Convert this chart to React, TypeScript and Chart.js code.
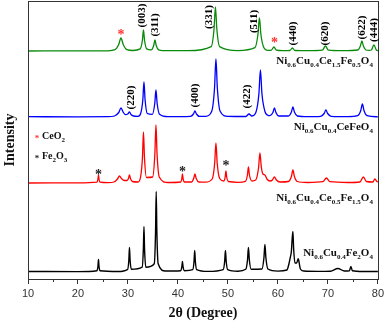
import React, { useEffect, useRef } from "react";
import { Chart, registerables } from "chart.js";

Chart.register(...registerables);

// ---- data: 2θ (deg) vs intensity (arbitrary units, stacked traces) ----
const GREEN_PTS: [number, number][] = [
  [10, 228], [20, 228.1], [26, 228.2], [27.4, 229.3], [28.15, 234.5], [28.6, 241], [29.05, 234.5], [29.8, 229.3],
  [31, 228.5], [32.44, 230.1], [32.88, 238.5], [33.1, 249], [33.32, 238.5], [33.76, 230.1],
  [34.65, 229.1], [35.15, 233.5], [35.4, 239], [35.65, 233.5], [36.15, 229.1], [37, 228.4], [42, 228.3],
  [46.66, 232.4], [47.22, 250], [47.5, 272], [47.78, 250], [48.34, 232.4], [52, 228.4],
  [55.4, 231.3], [56.0, 244.5], [56.3, 261], [56.6, 244.5], [57.2, 231.3], [58, 228.6],
  [58.7, 228.9], [59.2, 232], [59.7, 228.8], [61, 228.3], [62.4, 228.5], [62.9, 231], [63.4, 228.5],
  [66, 228.3], [68.9, 228.8], [69.5, 233], [70.1, 228.8], [73, 228.3],
  [76.0, 229], [76.5, 233], [76.8, 238], [77.1, 233], [77.6, 229], [78.2, 228.6],
  [78.7, 229], [79.2, 234], [79.7, 229], [80, 228.4],
];

const BLUE_PTS: [number, number][] = [
  [10, 162.3], [20, 162.2], [26, 162.3], [27.3, 163], [28.15, 166.5], [28.6, 171], [29.05, 166.8],
  [29.5, 164.3], [29.95, 165], [30.3, 167], [30.6, 164.5], [31.1, 163], [32, 162.7],
  [32.54, 165.5], [32.98, 179.5], [33.2, 197], [33.42, 179.5], [33.86, 165.5],
  [34.88, 164.7], [35.36, 175.5], [35.6, 189], [35.84, 175.5], [36.32, 164.7], [38, 162.3],
  [42.5, 162.6], [43.1, 165], [43.4, 168], [43.7, 165], [44.3, 162.6], [45.5, 162.7],
  [46.76, 167.8], [47.32, 191], [47.6, 220], [47.88, 191], [48.44, 167.8], [50, 162.7],
  [53.6, 162.5], [54.2, 165], [54.8, 163], [55.6, 166.7], [56.2, 185.5], [56.5, 209], [56.8, 185.5],
  [57.4, 167.5], [57.9, 164], [58.4, 163.3], [59.0, 166.5], [59.3, 171], [59.6, 166.5], [60.2, 163],
  [62.1, 163], [62.7, 167], [63.0, 172], [63.3, 167], [63.9, 163], [66, 162.3],
  [68.55, 162.7], [69.25, 165.5], [69.6, 169], [69.95, 165.5], [70.65, 162.7], [74, 162.3],
  [75.95, 163.3], [76.58, 168.5], [76.9, 175], [77.22, 168.5], [77.85, 163.3], [80, 162.2],
];

const RED_PTS: [number, number][] = [
  [10, 96], [20, 96.1], [23.8, 96.8], [24.0, 100], [24.1, 104], [24.2, 100], [24.4, 96.8], [26, 96.3],
  [27.2, 97], [27.9, 100], [28.3, 103], [28.7, 100.5], [29.3, 98.5], [29.8, 98.5], [30.1, 100.5],
  [30.3, 104], [30.5, 100.5], [30.9, 97.5], [32, 97],
  [32.5, 101.5], [32.9, 121.5], [33.1, 147], [33.3, 121.5], [33.7, 101.5],
  [34.94, 102], [35.38, 125], [35.6, 154], [35.82, 125], [36.26, 102], [38, 96.5],
  [40.55, 97], [40.78, 100.5], [40.9, 105], [41.02, 100.5], [41.3, 97],
  [42.7, 97], [43.15, 100.5], [43.4, 105], [43.65, 100.5], [44.2, 97], [45.5, 96.8],
  [46.85, 100], [47.35, 116], [47.6, 136], [47.85, 116], [48.35, 100.5],
  [49.2, 98], [49.45, 102], [49.6, 108], [49.75, 102], [50.1, 97.5], [52, 96.7],
  [53.5, 97.6], [53.9, 104], [54.1, 112], [54.3, 104], [54.8, 98],
  [55.55, 99], [56.12, 111], [56.4, 126], [56.68, 112], [57.0, 105], [57.4, 104], [57.8, 100], [58.4, 98],
  [58.9, 99], [59.3, 102], [59.7, 99], [60.4, 97], [62.1, 97.5], [62.7, 102.5], [63.0, 109], [63.3, 102.5],
  [63.9, 97.5], [66, 96.5], [69.0, 97.3], [69.7, 101], [70.4, 97.3], [74, 96.5],
  [76.4, 97], [77.1, 102], [77.7, 97.5], [79.0, 97], [79.4, 100], [79.8, 97.5], [80, 97],
];

const BLACK_PTS: [number, number][] = [
  [10, 7.5], [20, 7.4], [23.8, 8.3], [24.0, 13], [24.1, 19.5], [24.2, 13], [24.4, 8.3], [28, 7.5],
  [29.94, 9.7], [30.18, 19.3], [30.3, 31.5], [30.42, 19.3], [30.66, 9.7],
  [32.84, 11.8], [33.08, 30], [33.2, 52.5], [33.32, 30], [33.56, 11.8],
  [35.26, 15.3], [35.52, 47.3], [35.65, 87.5], [35.78, 47.3], [36.04, 15.3], [37.5, 8],
  [40.55, 8.3], [40.78, 12.3], [40.9, 17.5], [41.02, 12.3], [41.3, 8.3],
  [42.96, 9.4], [43.22, 17.8], [43.35, 28.5], [43.48, 17.8], [43.74, 9.4], [46, 7.6],
  [49.05, 9.4], [49.35, 17.8], [49.5, 28.5], [49.65, 17.8], [49.95, 9.4], [52, 7.8],
  [53.56, 9.7], [53.92, 19.3], [54.1, 31.5], [54.28, 19.3], [54.64, 9.7],
  [56.8, 10], [57.2, 21], [57.4, 34.5], [57.6, 21], [58.0, 10], [60, 7.9],
  [61.8, 9], [62.2, 15], [62.45, 21], [62.7, 28], [62.85, 40], [63.0, 47.5], [63.15, 30], [63.4, 16],
  [63.75, 16], [64.05, 20.3], [64.15, 19], [64.5, 10], [65.2, 8], [68, 7.6],
  [70.5, 7.8], [72.0, 10.5], [73.3, 8], [74.3, 8.3], [74.6, 12.5], [74.9, 8.3], [77, 7.5], [80, 7.5],
];

const SERIES_COLORS = ["#0a8a0a", "#0000ff", "#ff0000", "#000000"];
const SERIES = [GREEN_PTS, BLUE_PTS, RED_PTS, BLACK_PTS];

// Miller index labels: [2θ, intensity, text]
const HKL_LABELS: [number, number, string][] = [
  [32.8, 263.5, "(003)"], [35.45, 254, "(311)"], [46.2, 262, "(331)"], [55.3, 257.5, "(511)"],
  [63.1, 245.5, "(440)"], [69.4, 245.5, "(620)"], [76.8, 251.5, "(622)"], [79.2, 249, "(444)"],
  [30.7, 181.5, "(220)"], [43.4, 183.5, "(400)"], [53.8, 182.5, "(422)"],
];

// phase markers: [2θ, intensity, phase]
const STAR_MARKS: [number, number, string][] = [
  [28.6, 247, "CeO2"], [59.3, 239, "CeO2"],
  [24.1, 107.5, "Fe2O3"], [40.9, 110, "Fe2O3"], [49.6, 116, "Fe2O3"],
];

const LEGEND_ITEMS: [number, number, string, string][] = [
  [12, 142.3, "CeO_{2}", "CeO2"], [12, 122.3, "Fe_{2}O_{3}", "Fe2O3"],
];

const COMPOUNDS: [number, number, string][] = [
  [79.0, 218, "Ni_{0.6}Cu_{0.4}Ce_{1.5}Fe_{0.5}O_{4}"],
  [79.0, 152.3, "Ni_{0.6}Cu_{0.4}CeFeO_{4}"],
  [79.0, 80.7, "Ni_{0.6}Cu_{0.4}Ce_{0.5}Fe_{1.5}O_{4}"],
  [79.0, 25.7, "Ni_{0.6}Cu_{0.4}Fe_{2}O_{4}"],
];

const X_MIN = 10, X_MAX = 80, X_STEP = 10, MINOR_TICKS = [15, 25, 35, 45, 55, 65, 75];
const STAR_COLOR: Record<string, string> = { CeO2: "#ff3030", Fe2O3: "#222222" };

const SERIF = "'Liberation Serif', 'Times New Roman', serif";

function parseRich(s: string): { t: string; sub: boolean }[] {
  const out: { t: string; sub: boolean }[] = [];
  const re = /_\{([^}]*)\}/g;
  let last = 0;
  let m: RegExpExecArray | null;
  while ((m = re.exec(s))) {
    if (m.index > last) out.push({ t: s.slice(last, m.index), sub: false });
    out.push({ t: m[1], sub: true });
    last = m.index + m[0].length;
  }
  if (last < s.length) out.push({ t: s.slice(last), sub: false });
  return out;
}

function drawRich(ctx: CanvasRenderingContext2D, s: string, x: number, y: number, size: number, align: "left" | "right", color: string) {
  const parts = parseRich(s);
  const mainFont = `bold ${size}px ${SERIF}`;
  const subSize = Math.round(size * 0.68);
  const subFont = `bold ${subSize}px ${SERIF}`;
  ctx.save();
  ctx.fillStyle = color;
  ctx.textBaseline = "middle";
  ctx.textAlign = "left";
  let total = 0;
  for (const p of parts) {
    ctx.font = p.sub ? subFont : mainFont;
    total += ctx.measureText(p.t).width;
  }
  let cx = align === "right" ? x - total : x;
  for (const p of parts) {
    ctx.font = p.sub ? subFont : mainFont;
    ctx.fillText(p.t, cx, p.sub ? y + size * 0.38 : y);
    cx += ctx.measureText(p.t).width;
  }
  ctx.restore();
}

function drawStar(ctx: CanvasRenderingContext2D, x: number, y: number, size: number, color: string) {
  ctx.save();
  ctx.fillStyle = color;
  ctx.font = `bold ${size}px ${SERIF}`;
  ctx.textAlign = "center";
  ctx.textBaseline = "alphabetic";
  ctx.fillText("*", x, y + size * 0.5);
  ctx.restore();
}

const decorPlugin = {
  id: "decor",
  afterDatasetsDraw(chart: any) {
    const { ctx, chartArea, scales } = chart;
    const xs = scales.x, ys = scales.y;
    // frame
    ctx.save();
    ctx.strokeStyle = "#333";
    ctx.lineWidth = 1;
    ctx.strokeRect(Math.round(chartArea.left) + 0.5, Math.round(chartArea.top) + 0.5,
      Math.round(chartArea.right - chartArea.left), Math.round(chartArea.bottom - chartArea.top));
    // minor ticks
    ctx.beginPath();
    for (const v of MINOR_TICKS) {
      const px = Math.round(xs.getPixelForValue(v)) + 0.5;
      ctx.moveTo(px, chartArea.bottom);
      ctx.lineTo(px, chartArea.bottom + 3);
    }
    ctx.stroke();
    ctx.restore();

    // Miller labels
    ctx.save();
    ctx.fillStyle = "#000";
    ctx.font = `bold 11px ${SERIF}`;
    ctx.textAlign = "center";
    ctx.textBaseline = "middle";
    for (const [x, y, t] of HKL_LABELS) {
      ctx.save();
      ctx.translate(xs.getPixelForValue(x), ys.getPixelForValue(y));
      ctx.rotate(-Math.PI / 2);
      ctx.fillText(t, 0, 0);
      ctx.restore();
    }
    ctx.restore();

    for (const [x, y, ph] of STAR_MARKS) {
      drawStar(ctx, xs.getPixelForValue(x), ys.getPixelForValue(y), 14, STAR_COLOR[ph]);
    }

    for (const [x, y, label, ph] of LEGEND_ITEMS) {
      const px = xs.getPixelForValue(x), py = ys.getPixelForValue(y);
      drawStar(ctx, px - 1, py, 9, STAR_COLOR[ph]);
      drawRich(ctx, label, px + 4, py, 10, "left", "#111");
    }

    for (const [x, y, label] of COMPOUNDS) {
      drawRich(ctx, label, xs.getPixelForValue(x), ys.getPixelForValue(y), 11, "right", "#111");
    }
  },
};

export default function App() {
  const ref = useRef<HTMLCanvasElement | null>(null);
  useEffect(() => {
    if (!ref.current) return;
    const chart = new Chart(ref.current, {
      type: "line",
      data: {
        datasets: SERIES.map((pts, i) => ({
          data: pts.map(([x, y]) => ({ x, y })),
          borderColor: SERIES_COLORS[i],
          borderWidth: i === 3 ? 1.4 : 1.3,
          pointRadius: 0,
          fill: false,
          cubicInterpolationMode: "monotone" as const,
        })),
      },
      options: {
        animation: false,
        responsive: false,
        maintainAspectRatio: false,
        layout: { padding: { left: 0, top: 1, right: 7, bottom: 0 } },
        plugins: { legend: { display: false }, tooltip: { enabled: false } },
        scales: {
          x: {
            type: "linear",
            min: X_MIN,
            max: X_MAX,
            ticks: {
              stepSize: X_STEP,
              font: { family: "'Liberation Sans', Arial, sans-serif", size: 11 },
              color: "#333",
              padding: 3,
              maxRotation: 0,
            },
            grid: { drawOnChartArea: false, tickLength: 5, color: "#333" },
            border: { display: false },
            title: {
              display: true,
              text: "2θ (Degree)",
              font: { family: SERIF, size: 14, weight: "bold" },
              color: "#111",
              padding: { top: 0, bottom: 1 },
            },
            afterFit: (s: any) => { s.height = 44; },
          },
          y: {
            min: 0,
            max: 278,
            ticks: { display: false },
            grid: { display: false },
            border: { display: false },
            title: {
              display: true,
              text: "Intensity",
              font: { family: SERIF, size: 14, weight: "bold" },
              color: "#111",
              padding: { top: 2, bottom: 0 },
            },
            afterFit: (s: any) => { s.width = 28; },
          },
        },
      },
      plugins: [decorPlugin],
    });
    return () => chart.destroy();
  }, []);
  return (
    <div style={{ position: "fixed", left: 0, top: 0, width: 387, height: 323, background: "#fff" }}>
      <canvas ref={ref} width={387} height={323} style={{ display: "block" }} />
    </div>
  );
}
